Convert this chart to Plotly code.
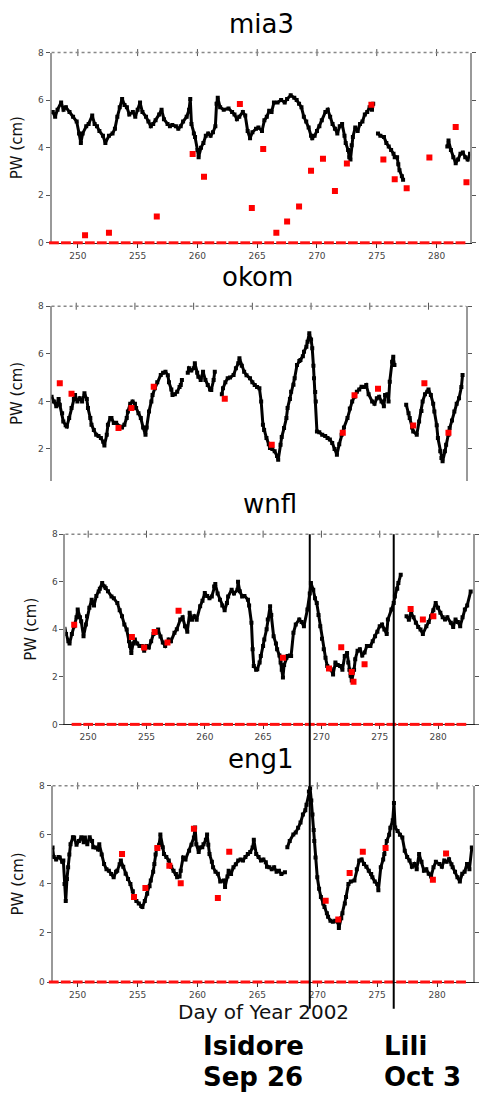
import plotly.graph_objects as go

W, H = 479, 1097

# ---------------- data (Day of Year 2002, PW in cm) ----------------
mia3_day = [247.9, 248.1, 248.3, 248.6, 248.8, 249.0, 249.3, 249.6, 249.9, 250.1, 250.25, 250.4, 250.7, 250.9,
            251.2, 251.4, 251.6, 251.8, 252.1, 252.3, 252.6, 252.9, 253.1, 253.3, 253.5, 253.7, 253.9, 254.1,
            254.3, 254.6, 254.8, 255.0, 255.2, 255.4, 255.7, 255.9, 256.1, 256.3, 256.5, 256.8, 257.0, 257.2,
            257.5, 257.7, 257.9, 258.2, 258.4, 258.6, 258.8, 259.1, 259.3, 259.4, 259.5, 259.7, 259.8, 260.0,
            260.1, 260.3, 260.5, 260.7, 260.9, 261.1, 261.3, 261.5, 261.6, 261.7, 261.9, 262.2, 262.6, 262.9,
            263.1, 263.3, 263.5, 263.8, 264.0, 264.2, 264.4, 264.6, 264.9, 265.1, 265.4, 265.6, 265.8, 266.0,
            266.2, 266.4, 266.7, 267.0, 267.3, 267.5, 267.8, 268.1, 268.3, 268.5, 268.7, 268.9, 269.1, 269.3,
            269.5, 269.6, 269.8, 270.0, 270.2, 270.4, 270.7, 270.9, 271.1, 271.3, 271.5, 271.7, 271.9, 272.1,
            272.3, 272.4, 272.6, 272.7, 272.8, 272.9, 273.0, 273.2, 273.4, 273.6, 273.8, 274.0, 274.2, 274.4,
            274.6, 274.7, 274.9, 275.1, 275.3, 275.6, 275.8, 276.0, 276.2, 276.4, 276.5, 276.7, 276.8, 276.9,
            277.1, 277.2, 279.0, 280.9, 281.0, 281.2, 281.4, 281.6, 281.8, 282.0, 282.2, 282.4, 282.6, 282.8]
mia3_pw = [5.5, 5.3, 5.6, 5.9, 5.6, 5.7, 5.5, 5.3, 5.1, 4.6, 4.2, 4.6, 4.9, 5.0,
           5.35, 5.0, 4.9, 4.7, 4.5, 4.2, 4.5, 4.6, 4.8, 5.3, 5.7, 6.05, 5.8, 5.7,
           5.4, 5.5, 5.3, 5.6, 5.9, 5.5, 5.3, 5.1, 4.9, 5.0, 5.15, 5.4, 5.6, 5.2,
           5.0, 4.9, 4.95, 4.9, 4.8, 4.9, 5.1, 5.3, 5.6, 6.05, 5.0, 4.6, 4.45, 3.9,
           3.6, 4.0, 4.2, 4.5, 4.6, 4.5, 4.65, 4.9, 5.85, 6.1, 5.7, 5.6, 5.65, 5.5,
           5.4, 5.2, 5.3, 5.5, 5.35, 4.7, 4.4, 4.65, 4.8, 4.85, 4.7, 5.15, 5.3, 5.55,
           5.5, 5.9, 5.9, 6.0, 5.9, 6.05, 6.2, 6.1, 6.0, 5.85, 5.7, 5.3, 5.1, 4.85,
           4.5, 4.4, 4.5, 4.7, 4.9, 5.15, 5.5, 5.6, 5.3, 5.0, 4.8, 4.6, 4.9, 5.0,
           4.5, 4.2, 3.9, 3.6, 3.5, 4.1, 4.45, 4.85, 4.7, 5.0, 5.1, 5.4, 5.5, 5.7,
           5.6, 5.85, None, 4.6, 4.5, 4.45, 4.2, 4.05, 3.9, 3.75, 3.6, 3.6, 3.3, 3.05,
           2.8, 2.65, None, 4.05, 4.3, 3.9, 3.6, 3.35, 3.5, 3.75, 3.8, 3.6, 3.5, 3.75]
mia3_obs_day = [250.6, 252.6, 256.6, 259.6, 260.55, 263.55, 264.55, 265.5, 266.6, 267.5, 268.5, 269.5,
                270.5, 271.5, 272.5, 274.55, 275.55, 276.5, 277.5, 279.4, 281.6, 282.5]
mia3_obs_pw = [0.32, 0.42, 1.11, 3.73, 2.78, 5.84, 1.46, 3.94, 0.42, 0.9, 1.53, 3.03,
               3.53, 2.18, 3.34, 5.81, 3.5, 2.67, 2.29, 3.59, 4.87, 2.55]

okom_day = [247.9, 248.1, 248.3, 248.5, 248.6, 248.8, 248.9, 249.1, 249.2, 249.4, 249.6, 249.8, 249.9, 250.1,
            250.3, 250.5, 250.7, 250.9, 251.0, 251.2, 251.3, 251.5, 251.7, 251.9, 252.1, 252.3, 252.4, 252.6,
            252.7, 252.9, 253.0, 253.2, 253.4, 253.7, 253.9, 254.1, 254.3, 254.4, 254.6, 254.8, 255.0, 255.1,
            255.3, 255.5, 255.7, 255.9, 256.0, 256.2, 256.4, 256.5, 256.7, 256.9, 257.2, 257.4, 257.6, 257.8,
            257.9, 258.1, 258.2, 258.4, 258.6, 258.8, 258.9, 259.0, 259.2, 259.5, 259.6, 259.8, 260.0, 260.1,
            260.3, 260.4, 260.6, 260.8, 261.0, 261.2, 261.4, 261.5, 261.7, 261.8, 262.1, 262.4, 262.5, 262.7,
            262.9, 263.1, 263.4, 263.6, 263.8, 263.9, 264.1, 264.3, 264.5, 264.8, 265.0, 265.2, 265.4, 265.6,
            265.75, 265.9, 266.0, 266.2, 266.4, 266.5, 266.7, 266.9, 267.1, 267.2, 267.4, 267.5, 267.7, 267.9,
            268.0, 268.2, 268.3, 268.5, 268.6, 268.8, 269.0, 269.1, 269.3, 269.4, 269.6, 269.7, 269.85, 270.0,
            270.1, 270.2, 270.25, 270.35, 270.4, 270.5, 270.7, 270.95, 271.2, 271.4, 271.6, 271.8, 272.0, 272.2,
            272.4, 272.6, 272.8, 273.1, 273.3, 273.5, 273.7, 273.9, 274.1, 274.3, 274.5, 274.7, 274.9, 275.2,
            275.4, 275.6, 275.8, 276.0, 276.2, 276.3, 276.5, 276.6, 276.7, 276.9, 277.0, 277.1, 277.6, 278.1,
            278.3, 278.4, 278.6, 278.7, 279.0, 279.2, 279.4, 279.5, 279.7, 279.9, 280.0, 280.2, 280.4, 280.5,
            280.7, 280.8, 281.0, 281.1, 281.2, 281.4, 281.5, 281.7, 281.8, 282.0, 282.2, 282.4, 282.6, 282.8,
            282.9]
okom_pw = [4.2, 4.0, 3.8, 4.1, 3.86, 3.5, 3.16, 3.0, 2.95, 3.3, 3.72, 4.1, 4.27, 4.0,
           4.13, 4.0, 4.34, 4.1, 3.72, 3.3, 3.02, 2.8, 2.6, 2.55, 2.46, 2.3, 2.15, 2.6,
           3.02, 3.3, 3.3, 3.09, 3.1, 2.95, 2.9, 3.02, 3.3, 3.58, 3.9, 4.0, 3.9, 3.72,
           3.5, 3.3, 2.9, 2.6, 2.9, 3.58, 4.0, 4.27, 4.55, 4.8, 5.11, 5.2, 5.25, 5.1,
           4.8, 4.5, 4.27, 4.3, 4.41, 4.6, 4.69, 4.9, None, 5.2, 5.39, 5.3, 5.39, 5.6,
           5.2, 5.04, 4.9, 5.25, 4.9, 4.69, 4.5, 4.48, 4.9, 5.25, None, 4.3, 4.55, 4.8,
           4.97, 5.0, 5.11, 5.39, 5.6, 5.81, 5.5, 5.25, 5.1, 4.97, 4.8, 4.69, 4.6, 4.55,
           4.0, 3.02, 2.8, 2.46, 2.2, 2.04, 2.0, 1.9, 1.7, 1.55, 2.18, 2.5, 2.88, 3.3,
           3.72, 4.1, 4.41, 4.7, 4.97, 5.53, 5.7, 5.74, 5.9, 6.09, 6.3, 6.51, 6.86, 6.6,
           6.23, 5.5, 4.97, 4.4, 4.0, 2.74, 2.7, 2.6, 2.55, 2.46, 2.4, 2.25, 2.0, 1.76,
           2.2, 2.6, 2.9, 3.3, 3.7, 4.0, 4.2, 4.41, 4.5, 4.62, 4.6, 4.69, 4.3, 4.0,
           3.9, 4.13, 4.2, 4.0, 3.8, 4.27, 4.3, 4.0, 4.83, 5.67, 5.88, 5.53, None, 3.86,
           3.5, 3.3, 2.9, 2.74, 2.6, 3.16, 3.6, 4.0, 4.3, 4.41, 4.5, 4.27, 3.9, 3.58,
           3.0, 2.46, 1.9, 1.62, 1.48, 1.9, 2.18, 2.6, 2.88, 3.2, 3.58, 3.9, 4.13, 4.6,
           5.11]
okom_obs_day = [248.6, 249.6, 253.6, 254.7, 256.6, 262.65, 266.65, 272.7, 273.7, 275.7, 278.7, 279.65, 281.7]
okom_obs_pw = [4.76, 4.32, 2.88, 3.72, 4.62, 4.11, 2.18, 2.68, 4.26, 4.53, 2.99, 4.76, 2.68]

wnfl_day = [248.0, 248.1, 248.3, 248.4, 248.6, 248.8, 249.0, 249.1, 249.3, 249.4, 249.6, 249.8, 249.9, 250.1,
            250.3, 250.5, 250.7, 250.9, 251.0, 251.2, 251.4, 251.5, 251.7, 252.0, 252.2, 252.5, 252.7, 252.9,
            253.1, 253.3, 253.5, 253.6, 253.7, 253.85, 254.0, 254.2, 254.4, 254.6, 254.8, 255.0, 255.2, 255.4,
            255.6, 255.8, 256.0, 256.2, 256.4, 256.6, 256.9, 257.1, 257.4, 257.6, 257.9, 258.1, 258.3, 258.5,
            258.7, 258.9, 259.1, 259.3, 259.6, 259.8, 260.0, 260.2, 260.4, 260.6, 260.8, 260.9, 261.1, 261.3,
            261.5, 261.7, 261.9, 262.0, 262.3, 262.5, 262.8, 262.85, 263.0, 263.2, 263.4, 263.7, 263.8, 264.0,
            264.1, 264.2, 264.4, 264.5, 264.7, 264.8, 265.0, 265.1, 265.3, 265.4, 265.6, 265.7, 265.9, 266.1,
            266.2, 266.4, 266.5, 266.6, 266.7, 266.8, 267.0, 267.1, 267.3, 267.4, 267.6, 267.8, 268.1, 268.3,
            268.5, 268.8, 269.0, 269.1, 269.3, 269.45, 269.6, 269.75, 269.9, 270.05, 270.2, 270.35, 270.5, 270.8,
            271.0, 271.2, 271.4, 271.6, 271.8, 272.0, 272.2, 272.3, 272.4, 272.5, 272.6, 272.8, 272.9, 273.1,
            273.3, 273.5, 273.7, 273.9, 274.2, 274.4, 274.6, 274.8, 275.0, 275.2, 275.4, 275.6, 275.7, 276.0,
            276.2, 276.3, 276.5, 276.6, 276.8, 277.0, 277.3, 277.5, 277.7, 277.9, 278.1, 278.3, 278.5, 278.7,
            279.0, 279.2, 279.4, 279.6, 279.8, 280.0, 280.2, 280.4, 280.6, 280.8, 281.1, 281.3, 281.5, 281.7,
            281.9, 282.1, 282.3, 282.5, 282.8]
wnfl_pw = [4.1, 3.8, 3.5, 3.4, 3.8, 4.13, 4.5, 4.83, 4.5, 4.34, 3.71, 4.2, 4.55, 4.9,
           5.24, 5.0, 5.4, 5.59, 5.7, 5.94, 5.8, 5.73, 5.6, 5.38, 5.3, 5.1, 4.8, 4.55,
           4.2, 3.99, 3.5, 3.3, 3.0, 3.4, 3.57, 3.4, 3.3, 3.3, 3.1, 3.3, 3.23, 3.5,
           3.8, 3.85, 3.99, 3.7, 3.44, 3.3, 3.57, 3.5, 3.85, 4.0, 4.41, 4.5, 4.13, 3.9,
           4.69, 4.4, 4.55, 4.4, 4.97, 5.2, 5.52, 5.4, 5.3, 5.38, 5.8, 5.9, 5.5, 5.24,
           5.0, 4.8, 5.1, 5.38, 5.66, 5.5, 5.66, 6.0, 5.6, 5.38, 5.4, 5.24, 5.0, 4.27,
           3.16, 2.46, 2.3, 2.32, 2.6, 2.88, 3.3, 3.57, 4.0, 4.41, 4.97, 4.6, 3.71, 3.4,
           3.16, 2.9, 2.6, 2.3, 1.97, 2.5, 2.8, 2.88, 2.9, 2.88, 3.85, 4.2, 4.41, 4.3,
           4.13, 4.83, 5.5, 5.94, 5.66, 5.3, 5.1, 4.6, 4.13, 3.6, 3.16, 2.8, 2.46, 2.32,
           2.1, 2.6, 2.5, 2.46, 2.3, 2.88, 3.0, 2.6, 2.3, 2.04, 1.84, 2.3, 2.74, 3.1,
           3.16, 2.9, 3.02, 3.3, 3.3, 3.5, 3.71, 3.9, 4.13, 4.2, 3.99, 3.8, 4.41, 4.83,
           5.1, 5.38, 5.7, 5.94, 6.29, None, 4.55, 4.4, 4.69, 4.5, 4.27, 4.1, 3.99, 3.8,
           4.13, 4.3, 4.55, 4.8, 5.1, 4.9, 4.69, 4.5, 4.41, 4.5, 4.27, 4.1, 4.41, 4.3,
           4.13, 4.5, 4.83, 5.0, 5.59]
wnfl_obs_day = [248.8, 253.75, 254.8, 255.7, 256.8, 257.75, 266.7, 270.65, 271.7, 272.6, 272.75, 273.7,
                277.65, 278.7, 279.6]
wnfl_obs_pw = [4.19, 3.67, 3.23, 3.88, 3.44, 4.78, 2.8, 2.35, 3.24, 2.2, 1.79, 2.53,
               4.85, 4.41, 4.55]

eng1_day = [247.9, 248.0, 248.2, 248.4, 248.5, 248.7, 248.8, 248.9, 249.0, 249.1, 249.2, 249.3, 249.4, 249.6,
            249.7, 249.9, 250.1, 250.3, 250.5, 250.6, 250.8, 251.0, 251.2, 251.3, 251.5, 251.7, 251.8, 252.0,
            252.2, 252.4, 252.6, 252.8, 253.0, 253.2, 253.3, 253.5, 253.6, 253.8, 254.0, 254.2, 254.4, 254.6,
            254.7, 254.9, 255.1, 255.3, 255.4, 255.6, 255.8, 256.0, 256.1, 256.3, 256.4, 256.5, 256.6, 256.8,
            256.9, 257.1, 257.2, 257.4, 257.6, 257.8, 258.0, 258.2, 258.3, 258.5, 258.6, 258.8, 259.0, 259.3,
            259.5, 259.7, 259.8, 259.9, 260.1, 260.2, 260.4, 260.5, 260.7, 260.8, 260.9, 261.0, 261.2, 261.3,
            261.5, 261.7, 261.9, 262.2, 262.3, 262.5, 262.6, 262.8, 263.0, 263.2, 263.4, 263.6, 263.8, 264.0,
            264.2, 264.4, 264.6, 264.7, 264.9, 265.1, 265.3, 265.5, 265.7, 265.8, 266.0, 266.2, 266.4, 266.6,
            266.8, 267.0, 267.3, 267.4, 267.5, 267.7, 268.0, 268.2, 268.4, 268.6, 268.8, 269.0, 269.1, 269.3,
            269.4, 269.5, 269.6, 269.7, 269.75, 269.85, 270.0, 270.15, 270.3, 270.5, 270.6, 270.8, 270.9, 271.1,
            271.3, 271.5, 271.7, 271.8, 272.0, 272.1, 272.3, 272.4, 272.6, 272.8, 273.1, 273.3, 273.5, 273.7,
            273.9, 274.1, 274.3, 274.5, 274.6, 274.8, 275.0, 275.1, 275.3, 275.5, 275.6, 275.8, 276.0, 276.1,
            276.3, 276.4, 276.5, 276.7, 276.9, 277.1, 277.3, 277.5, 277.7, 277.9, 278.1, 278.3, 278.5, 278.7,
            278.9, 279.1, 279.3, 279.5, 279.7, 279.9, 280.2, 280.4, 280.6, 280.8, 281.0, 281.2, 281.3, 281.5,
            281.7, 281.9, 282.1, 282.3, 282.5, 282.7, 282.9]
eng1_pw = [5.48, 5.1, 5.0, 5.1, 5.08, 4.9, 4.95, 4.0, 3.3, 4.2, 4.68, 5.2, 5.62, 5.9,
           5.89, 5.6, 5.75, 5.9, 5.7, 5.89, 5.62, 5.9, 5.75, 5.5, 5.48, 5.4, 5.62, 5.2,
           4.81, 4.6, 4.54, 4.4, 4.27, 4.5, 4.54, 4.8, 4.95, 4.7, 4.41, 4.2, 4.0, 3.7,
           3.47, 3.3, 3.2, 3.1, 3.06, 3.3, 3.6, 3.9, 4.14, 4.5, 4.81, 5.2, 5.48, 5.6,
           6.02, 5.5, 5.22, 5.1, 4.95, 4.7, 4.54, 4.4, 4.27, 4.3, 4.54, 5.08, 5.0, 5.35,
           5.6, 5.89, 6.3, 5.62, 5.3, 5.48, 5.5, 5.62, 5.8, 6.02, 5.6, 5.22, 4.9, 4.68,
           4.5, 4.41, 4.1, 4.14, 3.87, 4.3, 4.54, 4.4, 4.68, 4.8, 4.95, 5.0, 4.95, 5.1,
           5.22, 5.3, 5.48, 5.8, 5.22, 5.1, 4.95, 5.0, 4.88, 4.7, 4.68, 4.6, 4.68, 4.5,
           4.54, 4.4, 4.48, None, 5.5, 5.75, 6.02, 6.1, 6.29, 6.5, 6.83, 7.0, 7.23, 7.77,
           7.9, 7.4, 6.83, 6.2, 5.75, 5.08, 4.27, 3.8, 3.47, 3.2, 3.06, 2.8, 2.66, 2.5,
           2.46, 2.5, 2.46, 2.2, 2.6, 2.8, 3.2, 3.47, 4.0, 4.1, 4.14, 4.6, 4.95, 5.0,
           4.81, 4.7, 4.54, 4.4, 4.27, 4.1, 4.0, 3.74, 4.68, 5.0, 5.22, 5.75, 6.0, 6.29,
           6.6, 7.3, 6.3, 6.16, 6.0, 5.89, 5.35, 5.1, 4.95, 4.7, 4.81, 4.6, 5.22, 4.9,
           4.54, 4.6, 4.41, 4.3, 4.68, 4.9, 4.81, 4.7, 4.95, 4.9, 5.01, 4.8, 4.68, 4.5,
           4.27, 4.1, 4.41, 4.5, 4.81, 4.6, 5.48]
eng1_obs_day = [253.7, 254.7, 255.65, 256.65, 257.65, 258.6, 259.7, 261.7, 262.65, 270.7, 271.75, 272.7,
                273.8, 275.7, 279.65, 280.75]
eng1_obs_pw = [5.22, 3.47, 3.83, 5.46, 4.74, 4.03, 6.25, 3.43, 5.31, 3.31, 2.55, 4.45,
               5.31, 5.46, 4.17, 5.24]

missing_days = [248, 249, 250, 251, 252, 253, 254, 255, 256, 257, 258, 259, 260, 261, 262, 263, 264, 265,
                266, 267, 268, 269, 270, 271, 272, 273, 274, 275, 276, 277, 278, 279, 280, 281, 282]
missing_pw = [0] * len(missing_days)

x_ticks = [250, 255, 260, 265, 270, 275, 280]
event_days = [269.0, 276.2]
event_names = ["Isidore", "Lili"]
event_dates = ["Sep 26", "Oct 3"]

# ---------------- layout geometry (pixels) ----------------
panels = [
    dict(name="mia3", day=mia3_day, pw=mia3_pw, od=mia3_obs_day, op=mia3_obs_pw, zeros=True,
         px=(52, 474), py=(48, 240), xr=(247.8, 282.8), yr=(0, 8), yt=[0, 2, 4, 6, 8],
         labels=True, bottom=True, title=(264, 19)),
    dict(name="okom", day=okom_day, pw=okom_pw, od=okom_obs_day, op=okom_obs_pw, zeros=False,
         px=(52, 470), py=(304, 480), xr=(247.9, 283.2), yr=(0.67, 8), yt=[2, 4, 6, 8],
         labels=False, bottom=False, title=(260, 274)),
    dict(name="wnfl", day=wnfl_day, pw=wnfl_pw, od=wnfl_obs_day, op=wnfl_obs_pw, zeros=True,
         px=(66, 477), py=(534, 726), xr=(248.05, 283.0), yr=(0, 8), yt=[0, 2, 4, 6, 8],
         labels=True, bottom=True, title=(272, 504)),
    dict(name="eng1", day=eng1_day, pw=eng1_pw, od=eng1_obs_day, op=eng1_obs_pw, zeros=True,
         px=(53, 477), py=(788, 986), xr=(247.9, 283.0), yr=(0, 8), yt=[0, 2, 4, 6, 8],
         labels=True, bottom=True, title=(263, 761)),
]

FONT = "DejaVu Sans"
fig = go.Figure()
layout = dict(width=W, height=H, margin=dict(l=0, r=0, t=0, b=0), showlegend=False,
              paper_bgcolor="white", plot_bgcolor="white", annotations=[], shapes=[])

for i, p in enumerate(panels, start=1):
    xa = "x" if i == 1 else f"x{i}"
    ya = "y" if i == 1 else f"y{i}"
    xkey = "xaxis" if i == 1 else f"xaxis{i}"
    ykey = "yaxis" if i == 1 else f"yaxis{i}"
    layout[xkey] = dict(domain=[p["px"][0] / W, p["px"][1] / W], range=list(p["xr"]), anchor=ya,
                        tickvals=x_ticks, showticklabels=p["labels"], ticks="outside" if p["bottom"] else "",
                        ticklen=4, tickcolor="#333", showline=p["bottom"], linecolor="#222", linewidth=1,
                        showgrid=False, zeroline=False, layer="below traces",
                        tickfont=dict(family=FONT, size=9, color="#444"))
    layout[ykey] = dict(domain=[1 - p["py"][1] / H, 1 - p["py"][0] / H], range=list(p["yr"]), anchor=xa,
                        tickvals=p["yt"], ticks="outside", ticklen=4, tickcolor="#555",
                        showline=True, linecolor="#999", linewidth=2, mirror="ticks",
                        showgrid=False, zeroline=False, layer="below traces",
                        title=dict(text="PW (cm)", font=dict(family=FONT, size=15, color="#111"), standoff=12),
                        tickfont=dict(family=FONT, size=9, color="#444"))
    # missing-report markers at zero
    if p["zeros"]:
        fig.add_trace(go.Scatter(x=missing_days, y=missing_pw, xaxis=xa, yaxis=ya, mode="markers",
                                 marker=dict(symbol="line-ew", size=7, line=dict(color="#ff1010", width=3)),
                                 cliponaxis=False, hoverinfo="skip"))
    # GPS PW series
    fig.add_trace(go.Scatter(x=p["day"], y=p["pw"], xaxis=xa, yaxis=ya, mode="lines+markers",
                             line=dict(color="black", width=3), connectgaps=False,
                             marker=dict(symbol="square", size=4, color="black")))
    # other observations
    fig.add_trace(go.Scatter(x=p["od"], y=p["op"], xaxis=xa, yaxis=ya, mode="markers",
                             marker=dict(symbol="square", size=6, color="#ff0000")))
    # top ticks
    fig.add_trace(go.Scatter(x=x_ticks, y=[p["yr"][1]] * len(x_ticks), xaxis=xa, yaxis=ya, mode="markers",
                             marker=dict(symbol="line-ns", size=5, line=dict(color="#555", width=1)),
                             cliponaxis=False, hoverinfo="skip"))
    # dotted top border
    layout["shapes"].append(dict(type="line", xref=f"{xa} domain", yref=f"{ya} domain", x0=0, x1=1, y0=1, y1=1,
                                 line=dict(color="#888", width=1.5, dash="dot")))
    layout["annotations"].append(dict(text=p["name"], x=p["title"][0] / W, y=1 - p["title"][1] / H,
                                      xref="paper", yref="paper", showarrow=False, xanchor="center",
                                      yanchor="middle", font=dict(family=FONT, size=26, color="black")))

# hurricane landfall lines spanning the wnfl and eng1 panels
for d in event_days:
    layout["shapes"].append(dict(type="line", xref="x3", yref="paper", x0=d, x1=d,
                                 y0=1 - 1013 / H, y1=1 - 534 / H, line=dict(color="black", width=2)))

layout["annotations"].append(dict(text="Day of Year 2002", x=266 / W, y=1 - 1016 / H, xref="paper", yref="paper",
                                  showarrow=False, xanchor="center", yanchor="middle",
                                  font=dict(family=FONT, size=20, color="#111")))
for name, date, xpix in zip(event_names, event_dates, [203, 385]):
    for txt, ypix in ((name, 1051), (date, 1082)):
        layout["annotations"].append(dict(text=f"<b>{txt}</b>", x=xpix / W, y=1 - ypix / H, xref="paper",
                                          yref="paper", showarrow=False, xanchor="left", yanchor="middle",
                                          font=dict(family=FONT, size=26, color="black")))

fig.update_layout(**layout)
fig.write_html("out.html", config={"displayModeBar": False},
               post_script="document.body.style.margin='0';document.body.style.overflow='hidden';")
